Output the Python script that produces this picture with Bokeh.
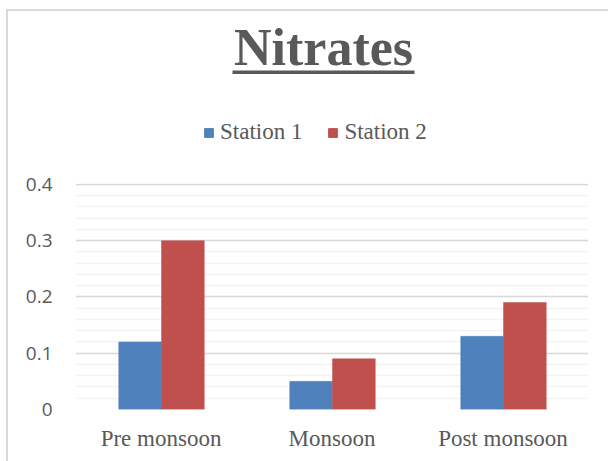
from bokeh.plotting import figure
from bokeh.layouts import column
from bokeh.models import (ColumnDataSource, FactorRange, Range1d, SingleIntervalTicker,
                          NumeralTickFormatter, Legend, LegendItem, Label, BoxAnnotation)
from bokeh.transform import dodge
from bokeh.embed import file_html
from bokeh.resources import INLINE

categories = ["Pre monsoon", "Monsoon", "Post monsoon"]
station1 = [0.12, 0.05, 0.13]
station2 = [0.30, 0.09, 0.19]
series_names = ["Station 1", "Station 2"]
series_colors = ["#4f81bd", "#c0504d"]
title_text = "Nitrates"

src = ColumnDataSource(dict(cat=categories, s1=station1, s2=station2))

W = 598
TOP_H, BOT_H = 150, 300

# ---------- header (title + legend); its frame is aligned with the chart frame ----------
top = figure(width=W, height=TOP_H, output_backend="svg", toolbar_location=None,
             x_range=Range1d(0, 1), y_range=Range1d(0, 1),
             min_border=0, x_axis_type=None, y_axis_type=None)
top.outline_line_color = None
top.grid.visible = False
top.background_fill_color = "white"
top.border_fill_color = "white"

top.add_layout(Label(x=248, y=114, x_units="screen", y_units="screen", text=title_text,
                     text_align="center", text_baseline="alphabetic",
                     text_font="Liberation Serif", text_font_style="bold",
                     text_font_size="52px", text_color="#595959"))
top.add_layout(BoxAnnotation(left=157, right=339, bottom=87.5, top=91,
                             left_units="screen", right_units="screen",
                             bottom_units="screen", top_units="screen",
                             fill_color="#595959", fill_alpha=1, line_color=None))

nan = float("nan")
d1 = top.vbar(x=[nan], top=[nan], width=0.1, fill_color=series_colors[0], line_color=series_colors[0])
d2 = top.vbar(x=[nan], top=[nan], width=0.1, fill_color=series_colors[1], line_color=series_colors[1])
legend = Legend(items=[LegendItem(label=series_names[0], renderers=[d1]),
                       LegendItem(label=series_names[1], renderers=[d2])],
                orientation="horizontal", location=(128, 16),
                glyph_width=11, glyph_height=11, label_standoff=6, spacing=25,
                padding=0, margin=0, border_line_color=None, background_fill_alpha=0,
                label_text_font="Liberation Serif", label_text_font_size="23px",
                label_text_color="#595959")
top.add_layout(legend, "center")

# ---------- chart ----------
p = figure(width=W, height=BOT_H, output_backend="svg", toolbar_location=None,
           x_range=FactorRange(*categories, range_padding=0),
           y_range=Range1d(0, 0.4015),
           min_border_left=67, min_border_right=18, min_border_top=22, min_border_bottom=52)
p.outline_line_color = None
p.background_fill_color = "white"
p.border_fill_color = "white"

p.vbar(x=dodge("cat", -0.122, range=p.x_range), top="s1", width=0.25, source=src,
       fill_color=series_colors[0], line_color=series_colors[0], line_width=0.5)
p.vbar(x=dodge("cat", 0.128, range=p.x_range), top="s2", width=0.25, source=src,
       fill_color=series_colors[1], line_color=series_colors[1], line_width=0.5)

yax = p.yaxis[0]
yax.ticker = SingleIntervalTicker(interval=0.1, num_minor_ticks=5)
yax.formatter = NumeralTickFormatter(format="0.[0]")
yax.axis_line_color = None
yax.major_tick_line_color = None
yax.minor_tick_line_color = None
yax.major_label_text_font = "Open Sans"
yax.major_label_text_font_size = "19px"
yax.major_label_text_color = "#595959"
yax.major_label_standoff = 17

xax = p.xaxis[0]
xax.axis_line_color = None
xax.major_tick_line_color = None
xax.minor_tick_line_color = None
xax.major_label_text_font = "Liberation Serif"
xax.major_label_text_font_size = "23px"
xax.major_label_text_color = "#595959"
xax.major_label_standoff = 10

p.xgrid.grid_line_color = None
p.ygrid.grid_line_color = "#d9d9d9"
p.ygrid.grid_line_width = 1.5
p.ygrid.minor_grid_line_color = "#f2f2f2"
p.ygrid.minor_grid_line_width = 1.5

layout = column(top, p, spacing=0,
                styles={"margin-left": "6px", "margin-top": "9px",
                        "border-left": "2px solid #d9d9d9",
                        "border-top": "2px solid #d9d9d9",
                        "width": "610px"})

open("out.html", "w").write(file_html(layout, INLINE))
